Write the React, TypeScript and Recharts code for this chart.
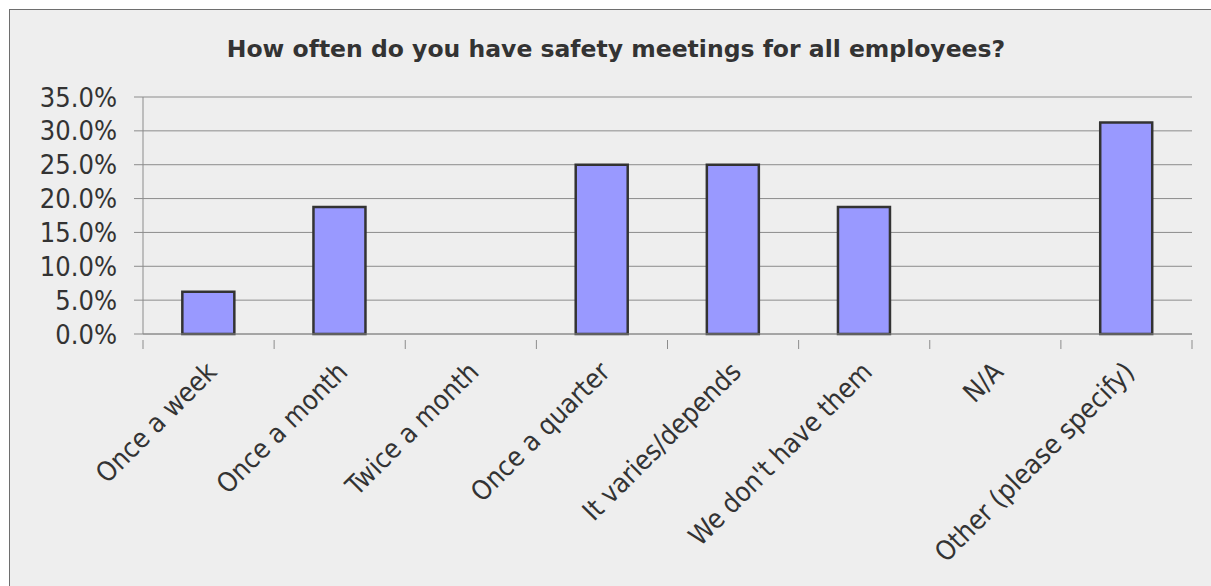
import React from 'react';
import { BarChart, Bar, XAxis, YAxis, CartesianGrid, Text } from 'recharts';

const categories = [
  'Once a week',
  'Once a month',
  'Twice a month',
  'Once a quarter',
  'It varies/depends',
  "We don't have them",
  'N/A',
  'Other (please specify)',
];
const shares = [0.0625, 0.1875, 0, 0.25, 0.25, 0.1875, 0, 0.3125];
const yTicks = [0, 0.05, 0.1, 0.15, 0.2, 0.25, 0.3, 0.35];

const data = categories.map((name, i) => ({ name, value: shares[i] }));

const FONT = "Tahoma, 'DejaVu Sans Condensed', 'DejaVu Sans', sans-serif";
const TITLE_FONT = "Tahoma, 'DejaVu Sans', sans-serif";
const INK = '#333333';
const GRID = '#8c8c8c';

// category label + tick marks on the band boundaries
function CategoryTick(props: any) {
  const { x, y, payload, index } = props;
  const half = payload.offset || 0;
  const top = y - 2;
  return (
    <g>
      <line x1={x - half} y1={top} x2={x - half} y2={top + 9} stroke={GRID} />
      {index === categories.length - 1 && (
        <line x1={x + half} y1={top} x2={x + half} y2={top + 9} stroke={GRID} />
      )}
      <Text
        x={x - 4}
        y={y + 18}
        angle={-45}
        textAnchor="end"
        verticalAnchor="start"
        fill={INK}
        style={{ fontFamily: FONT, fontSize: 27 }}
      >
        {payload.value}
      </Text>
    </g>
  );
}

export default function App() {
  return (
    <div style={{ position: 'fixed', left: 0, top: 0, width: 1211, height: 586, background: '#ffffff', overflow: 'hidden' }}>
      <div
        style={{
          position: 'absolute', left: 9, top: 9, width: 1202, height: 577,
          background: '#eeeeee', borderLeft: '1.5px solid #6e6e6e', borderTop: '1.5px solid #6e6e6e',
        }}
      >
        <div
          style={{
            position: 'absolute', left: 0, top: 25, width: 1212, textAlign: 'center',
            fontFamily: TITLE_FONT, fontWeight: 'bold', fontSize: 23.5, color: INK,
          }}
        >
          How often do you have safety meetings for all employees?
        </div>
        <BarChart
          width={1201}
          height={576}
          data={data}
          margin={{ top: 87, right: 19, left: 0, bottom: 0 }}
          barCategoryGap="30%"
        >
          <CartesianGrid vertical={false} stroke={GRID} />
          <YAxis
            domain={[0, 0.35]}
            ticks={yTicks}
            width={133}
            tickSize={9}
            tickMargin={17}
            stroke={GRID}
            tick={{ fill: INK, fontSize: 27, fontFamily: FONT }}
            tickFormatter={(v: number) => (v * 100).toFixed(1) + '%'}
            interval={0}
          />
          <XAxis
            dataKey="name"
            height={252}
            interval={0}
            stroke={GRID}
            tickLine={false}
            tick={<CategoryTick />}
          />
          <Bar dataKey="value" fill="#9999ff" stroke="#333333" strokeWidth={2.5} isAnimationActive={false} />
        </BarChart>
      </div>
    </div>
  );
}
